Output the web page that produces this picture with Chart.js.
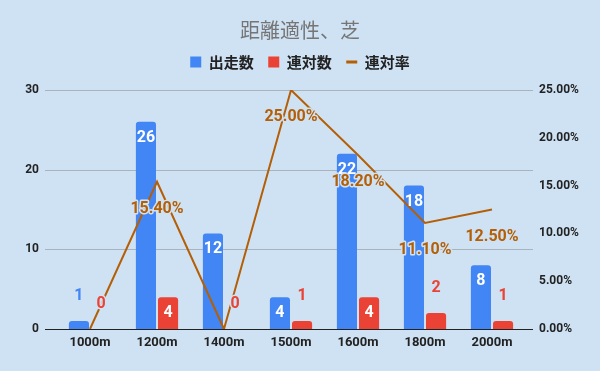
<!DOCTYPE html>
<html>
<head>
<meta charset="utf-8">
<script src="https://cdn.jsdelivr.net/npm/chart.js@4"></script>
<style>
  html, body { margin: 0; padding: 0; background: #cfe2f3; }
  canvas { display: block; }
</style>
</head>
<body>
<canvas id="chart" width="600" height="371"></canvas>
<script>
// データ
const categories = ['1000m', '1200m', '1400m', '1500m', '1600m', '1800m', '2000m'];
const starts = [1, 26, 12, 4, 22, 18, 8];
const top2Count = [0, 4, 0, 1, 4, 2, 1];
const top2Rate = [0, 15.4, 0, 25.0, 18.2, 11.1, 12.5];

const BG = '#cfe2f3';
const BLUE = '#4285f4';
const RED = '#ea4335';
const BROWN = '#b45f06';
const LABEL_FONT = 'bold 16px Roboto';

// グリッド線 (軸の外側まで伸ばす)
const gridLines = {
    id: 'gridLines',
    beforeDatasetsDraw(chart) {
        const ctx = chart.ctx;
        const yScale = chart.scales.y;
        const area = chart.chartArea;
        ctx.save();
        ctx.lineWidth = 1;
        yScale.ticks.forEach(t => {
            const py = Math.round(yScale.getPixelForValue(t.value)) + 0.5;
            ctx.strokeStyle = t.value === 0 ? '#222' : '#a9b3bd';
            ctx.beginPath();
            ctx.moveTo(area.left - 11.5, py);
            ctx.lineTo(area.right + 7.5, py);
            ctx.stroke();
        });
        ctx.restore();
    }
};

function haloText(ctx, text, x, y, color, halo) {
    if (halo) {
        ctx.lineWidth = 3;
        ctx.lineJoin = 'round';
        ctx.strokeStyle = BG;
        ctx.strokeText(text, x, y);
    }
    ctx.fillStyle = color;
    ctx.fillText(text, x, y);
}

// データラベル
const dataLabels = {
    id: 'dataLabels',
    afterDatasetsDraw(chart) {
        const ctx = chart.ctx;
        ctx.save();
        ctx.font = LABEL_FONT;
        ctx.textAlign = 'center';
        ctx.textBaseline = 'middle';
        chart.data.datasets.forEach((ds, i) => {
            const meta = chart.getDatasetMeta(i);
            meta.data.forEach((el, j) => {
                const v = ds.data[j];
                if (ds.type === 'line') {
                    if (v > 0) haloText(ctx, v.toFixed(2) + '%', el.x, el.y + 27, BROWN, true);
                    return;
                }
                const h = el.base - el.y;
                if (h > 24) {
                    haloText(ctx, String(v), el.x, el.y + 16, '#fff', false);
                } else {
                    haloText(ctx, String(v), el.x, el.y - 25, ds.backgroundColor, true);
                }
            });
        });
        ctx.restore();
    }
};

const ctx = document.getElementById('chart').getContext('2d');
const chart = new Chart(ctx, {
    type: 'bar',
    data: {
        labels: categories,
        datasets: [{
            label: '出走数',
            data: starts,
            backgroundColor: BLUE,
            borderRadius: 3,
            categoryPercentage: 0.66,
            barPercentage: 0.91,
            yAxisID: 'y',
            order: 1
        }, {
            label: '連対数',
            data: top2Count,
            backgroundColor: RED,
            borderRadius: 3,
            categoryPercentage: 0.66,
            barPercentage: 0.91,
            yAxisID: 'y',
            order: 1
        }, {
            type: 'line',
            label: '連対率',
            data: top2Rate,
            borderColor: BROWN,
            backgroundColor: BROWN,
            borderWidth: 2,
            pointRadius: 0,
            tension: 0,
            yAxisID: 'y1',
            order: 0
        }]
    },
    options: {
        responsive: false,
        animation: false,
        layout: { padding: 0 },
        plugins: {
            title: {
                display: true,
                text: '距離適性、芝',
                color: '#757575',
                font: { family: '"Noto Sans CJK JP"', size: 20, weight: 'normal', lineHeight: 1 },
                padding: { top: 20, bottom: 0 }
            },
            subtitle: {
                display: true,
                text: '',
                font: { size: 1, lineHeight: 1 },
                padding: { top: 0, bottom: 9.5 },
                position: 'top',
                weight: 500
            },
            legend: {
                display: true,
                position: 'top',
                labels: {
                    usePointStyle: true,
                    pointStyleWidth: 11,
                    boxHeight: 11,
                    padding: 14.5,
                    color: '#222',
                    font: { family: '"Noto Sans CJK JP"', size: 15, weight: 'bold' },
                    sort: (a, b) => a.datasetIndex - b.datasetIndex,
                    generateLabels(chart) {
                        const items = Chart.defaults.plugins.legend.labels.generateLabels(chart);
                        return items.map(it => {
                            const ds = chart.data.datasets[it.datasetIndex];
                            if (ds.type === 'line') {
                                it.pointStyle = 'line';
                                it.lineWidth = 3;
                                it.strokeStyle = BROWN;
                            } else {
                                it.pointStyle = 'rect';
                                it.lineWidth = 0;
                            }
                            return it;
                        });
                    }
                }
            },
            tooltip: { enabled: false }
        },
        scales: {
            x: {
                grid: { display: false, drawTicks: false },
                border: { display: false },
                ticks: {
                    color: '#222',
                    font: { family: 'Roboto', size: 13, weight: 'bold' },
                    padding: 6
                },
                afterFit(s) { s.height = 42; }
            },
            y: {
                position: 'left',
                min: 0,
                max: 30,
                grid: { display: false, drawTicks: false },
                border: { display: false },
                ticks: {
                    stepSize: 10,
                    color: '#222',
                    font: { family: 'Roboto', size: 12, weight: 'bold' },
                    padding: 17.5
                },
                afterFit(s) { s.width = 56.5; }
            },
            y1: {
                position: 'right',
                min: 0,
                max: 25,
                grid: { display: false, drawTicks: false },
                border: { display: false },
                ticks: {
                    stepSize: 5,
                    color: '#222',
                    font: { family: 'Roboto', size: 12, weight: 'bold' },
                    padding: 13.5,
                    callback: v => v.toFixed(2) + '%'
                },
                afterFit(s) { s.width = 74.5; }
            }
        }
    },
    plugins: [gridLines, dataLabels]
});
</script>
</body>
</html>
